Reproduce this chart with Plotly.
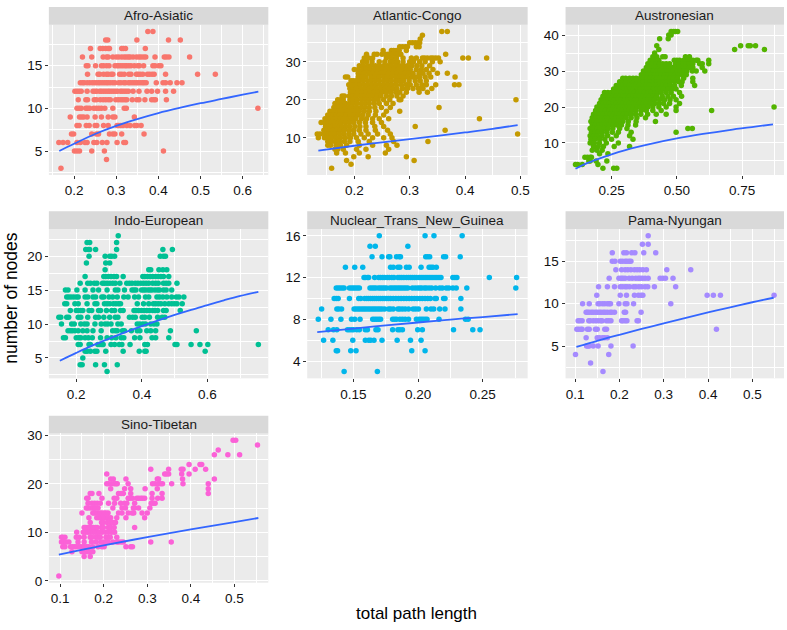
import plotly.graph_objects as go

# ---------------- data (y = number of nodes : list of total path lengths) -------------
afro_rows = {
    19: [0.375, 0.387],
    18: [0.275, 0.280, 0.349, 0.424, 0.452],
    17: [0.239, 0.262, 0.268, 0.275, 0.281, 0.284, 0.313, 0.317, 0.322, 0.369],
    16: [0.220, 0.242, 0.269, 0.277, 0.281, 0.292, 0.300, 0.306, 0.313, 0.319, 0.324, 0.329, 0.333, 0.340,
         0.348, 0.354, 0.359, 0.365, 0.370, 0.392, 0.414, 0.419, 0.425, 0.474],
    15: [0.229, 0.233, 0.251, 0.265, 0.270, 0.277, 0.283, 0.297, 0.302, 0.306, 0.311, 0.316, 0.321, 0.325,
         0.330, 0.335, 0.343, 0.351, 0.355, 0.365, 0.387, 0.392, 0.401, 0.406],
    14: [0.232, 0.257, 0.261, 0.270, 0.277, 0.281, 0.288, 0.292, 0.308, 0.313, 0.319, 0.330, 0.335, 0.348,
         0.352, 0.357, 0.363, 0.374, 0.379, 0.385, 0.390, 0.417, 0.493, 0.535],
    13: [0.215, 0.220, 0.224, 0.231, 0.237, 0.243, 0.248, 0.253, 0.258, 0.262, 0.267, 0.272, 0.277, 0.281,
         0.286, 0.292, 0.297, 0.306, 0.311, 0.318, 0.322, 0.329, 0.333, 0.338, 0.343, 0.348, 0.352, 0.357,
         0.362, 0.366, 0.371, 0.395, 0.411, 0.417, 0.428, 0.444, 0.456],
    12: [0.202, 0.207, 0.212, 0.217, 0.231, 0.245, 0.250, 0.254, 0.261, 0.265, 0.270, 0.275, 0.280, 0.284,
         0.289, 0.294, 0.299, 0.303, 0.310, 0.314, 0.319, 0.324, 0.329, 0.340, 0.354, 0.373, 0.384, 0.398,
         0.417, 0.436],
    11: [0.210, 0.228, 0.232, 0.248, 0.253, 0.262, 0.269, 0.275, 0.281, 0.286, 0.299, 0.305, 0.311, 0.316,
         0.321, 0.325, 0.338, 0.349, 0.354, 0.368, 0.384, 0.389, 0.393, 0.419],
    10: [0.207, 0.212, 0.217, 0.228, 0.232, 0.237, 0.247, 0.253, 0.259, 0.265, 0.273, 0.292, 0.319, 0.324, 0.636],
    9: [0.191, 0.213, 0.218, 0.223, 0.231, 0.250, 0.265, 0.281, 0.292, 0.297, 0.343],
    8: [0.207, 0.212, 0.229, 0.236, 0.250, 0.254, 0.270, 0.281, 0.302, 0.306, 0.311, 0.316, 0.325, 0.333,
        0.344, 0.349, 0.359],
    7: [0.194, 0.199, 0.242, 0.253, 0.258, 0.284, 0.292, 0.297, 0.313, 0.366],
    6: [0.164, 0.174, 0.185, 0.207, 0.215, 0.226, 0.231, 0.247, 0.254, 0.267, 0.278, 0.302, 0.318, 0.322],
    5: [0.201, 0.207, 0.213, 0.242, 0.272, 0.412],
    4: [0.277],
    3: [0.169],
}
afro_fit_x = [0.165, 0.2, 0.25, 0.3, 0.35, 0.4, 0.45, 0.5, 0.55, 0.6, 0.637]
afro_fit_y = [5.0, 5.85, 7.0, 7.95, 8.75, 9.45, 10.05, 10.6, 11.1, 11.6, 11.95]

congo_rows = {
    38: [0.358, 0.368],
    37: [0.323],
    36: [0.319],
    35: [0.300, 0.305, 0.310, 0.315, 0.318],
    34: [0.282, 0.287, 0.292, 0.296, 0.312, 0.317],
    33: [0.252, 0.267, 0.271, 0.276, 0.281, 0.294],
    32: [0.222, 0.236, 0.241, 0.250, 0.256, 0.261, 0.265, 0.270, 0.275, 0.279, 0.284, 0.365],
    31: [0.218, 0.226, 0.233, 0.258, 0.267, 0.276, 0.288, 0.303, 0.312, 0.323, 0.327, 0.332, 0.338, 0.342,
         0.347, 0.352, 0.396, 0.406, 0.439],
    30: [0.215, 0.222, 0.232, 0.245, 0.255, 0.265, 0.271, 0.278, 0.288, 0.300, 0.307, 0.318, 0.328, 0.341, 0.355],
    29: [0.209, 0.216, 0.224, 0.230, 0.238, 0.245, 0.253, 0.260, 0.267, 0.275, 0.282, 0.289, 0.296, 0.304,
         0.313, 0.322, 0.336],
    28: [0.200, 0.207, 0.215, 0.221, 0.228, 0.236, 0.243, 0.250, 0.258, 0.265, 0.272, 0.279, 0.287, 0.294,
         0.301, 0.312, 0.321, 0.330, 0.342],
    27: [0.207, 0.212, 0.218, 0.226, 0.233, 0.241, 0.248, 0.255, 0.262, 0.270, 0.277, 0.284, 0.292, 0.299,
         0.306, 0.317, 0.324, 0.335, 0.350, 0.368],
    26: [0.184, 0.188, 0.207, 0.214, 0.221, 0.230, 0.237, 0.245, 0.253, 0.260, 0.267, 0.275, 0.282, 0.289,
         0.296, 0.304, 0.311, 0.318, 0.328, 0.338, 0.382],
    25: [0.194, 0.198, 0.203, 0.209, 0.216, 0.224, 0.231, 0.238, 0.245, 0.253, 0.260, 0.267, 0.275, 0.282,
         0.289, 0.299, 0.310, 0.319, 0.330],
    24: [0.190, 0.196, 0.203, 0.210, 0.218, 0.225, 0.232, 0.239, 0.247, 0.254, 0.261, 0.268, 0.276, 0.285,
         0.294, 0.301, 0.312, 0.322, 0.330, 0.347, 0.381, 0.389],
    23: [0.192, 0.198, 0.204, 0.212, 0.219, 0.226, 0.233, 0.241, 0.248, 0.255, 0.262, 0.270, 0.277, 0.287,
         0.296, 0.306, 0.316, 0.324, 0.340],
    22: [0.193, 0.199, 0.207, 0.214, 0.221, 0.228, 0.236, 0.243, 0.250, 0.258, 0.266, 0.275, 0.282, 0.294,
         0.317, 0.332],
    21: [0.178, 0.182, 0.191, 0.197, 0.204, 0.212, 0.219, 0.226, 0.233, 0.241, 0.248, 0.258, 0.267, 0.277, 0.288],
    20: [0.170, 0.175, 0.180, 0.192, 0.198, 0.205, 0.213, 0.220, 0.227, 0.235, 0.243, 0.253, 0.264, 0.281,
         0.284, 0.492],
    19: [0.165, 0.172, 0.178, 0.184, 0.191, 0.198, 0.205, 0.213, 0.220, 0.227, 0.236, 0.245, 0.258, 0.270],
    18: [0.163, 0.168, 0.173, 0.178, 0.184, 0.190, 0.197, 0.204, 0.212, 0.219, 0.227, 0.237, 0.249, 0.265, 0.353],
    17: [0.156, 0.161, 0.165, 0.170, 0.175, 0.181, 0.187, 0.195, 0.202, 0.209, 0.218, 0.227, 0.239, 0.258, 0.282],
    16: [0.152, 0.156, 0.161, 0.167, 0.173, 0.179, 0.185, 0.192, 0.199, 0.207, 0.215, 0.225, 0.238, 0.253],
    15: [0.147, 0.152, 0.157, 0.162, 0.168, 0.174, 0.180, 0.187, 0.195, 0.203, 0.213, 0.222, 0.233, 0.245,
         0.262, 0.426],
    14: [0.140, 0.146, 0.152, 0.158, 0.164, 0.170, 0.176, 0.184, 0.191, 0.199, 0.209, 0.220, 0.233, 0.249],
    13: [0.148, 0.153, 0.159, 0.165, 0.172, 0.178, 0.185, 0.192, 0.201, 0.210, 0.221, 0.237, 0.253, 0.310],
    12: [0.145, 0.150, 0.156, 0.162, 0.168, 0.175, 0.182, 0.191, 0.199, 0.209, 0.221, 0.238, 0.260, 0.364],
    11: [0.133, 0.138, 0.146, 0.152, 0.158, 0.165, 0.173, 0.181, 0.190, 0.199, 0.212, 0.225, 0.242, 0.265, 0.495],
    10: [0.135, 0.146, 0.152, 0.159, 0.167, 0.175, 0.184, 0.193, 0.204, 0.218, 0.233, 0.253, 0.268],
    9: [0.152, 0.158, 0.165, 0.173, 0.182, 0.192, 0.207, 0.227, 0.271, 0.333],
    8: [0.152, 0.157, 0.167, 0.175, 0.186, 0.209, 0.233, 0.258, 0.277],
    7: [0.165, 0.170, 0.180, 0.204, 0.221, 0.262],
    6: [0.168, 0.184, 0.209, 0.256],
    5: [0.199, 0.225, 0.294],
    4: [0.186, 0.308],
    3: [0.194],
    2: [0.159],
}
congo_fit_x = [0.135, 0.2, 0.25, 0.3, 0.35, 0.4, 0.45, 0.495]
congo_fit_y = [6.6, 7.9, 8.8, 9.65, 10.5, 11.4, 12.35, 13.35]

austro_rows = {
    41: [0.478, 0.487, 0.495, 0.503],
    40: [0.469, 0.478],
    39: [0.434, 0.467],
    37: [0.423, 0.744, 0.773, 0.781, 0.801],
    36: [0.431, 0.721, 0.835],
    35: [0.415],
    34: [0.408, 0.423, 0.446, 0.455, 0.533, 0.548],
    33: [0.398, 0.413, 0.431, 0.490, 0.500, 0.510, 0.526, 0.542, 0.551, 0.561, 0.574, 0.580, 0.622],
    32: [0.389, 0.406, 0.421, 0.434, 0.446, 0.459, 0.472, 0.495, 0.510, 0.523, 0.536, 0.548, 0.561, 0.587,
         0.597, 0.622],
    31: [0.383, 0.395, 0.408, 0.421, 0.434, 0.446, 0.459, 0.472, 0.485, 0.497, 0.510, 0.523, 0.536, 0.546,
         0.561, 0.597],
    30: [0.372, 0.385, 0.398, 0.411, 0.423, 0.436, 0.449, 0.462, 0.474, 0.487, 0.500, 0.513, 0.526, 0.538,
         0.559, 0.574, 0.607],
    29: [0.364, 0.376, 0.389, 0.402, 0.415, 0.427, 0.440, 0.453, 0.466, 0.478, 0.491, 0.504, 0.520, 0.536],
    28: [0.293, 0.304, 0.319, 0.332, 0.344, 0.360, 0.372, 0.385, 0.398, 0.411, 0.423, 0.436, 0.449, 0.462,
         0.474, 0.487, 0.503, 0.526, 0.561],
    27: [0.281, 0.293, 0.306, 0.321, 0.334, 0.347, 0.360, 0.372, 0.385, 0.398, 0.411, 0.423, 0.436, 0.449,
         0.462, 0.474, 0.491, 0.508, 0.520, 0.561],
    26: [0.268, 0.281, 0.293, 0.306, 0.319, 0.332, 0.344, 0.357, 0.370, 0.383, 0.395, 0.408, 0.421, 0.434,
         0.446, 0.459, 0.474, 0.491, 0.517, 0.568],
    25: [0.258, 0.270, 0.283, 0.296, 0.309, 0.321, 0.334, 0.347, 0.360, 0.372, 0.385, 0.398, 0.411, 0.423,
         0.436, 0.449, 0.466, 0.482, 0.497],
    24: [0.223, 0.236, 0.249, 0.261, 0.274, 0.287, 0.300, 0.313, 0.325, 0.338, 0.351, 0.364, 0.376, 0.389,
         0.402, 0.415, 0.427, 0.440, 0.459, 0.478, 0.510],
    23: [0.217, 0.230, 0.242, 0.255, 0.268, 0.281, 0.293, 0.306, 0.319, 0.332, 0.344, 0.357, 0.370, 0.383,
         0.395, 0.408, 0.423, 0.444, 0.466, 0.487, 0.518],
    22: [0.210, 0.223, 0.236, 0.249, 0.261, 0.274, 0.287, 0.300, 0.313, 0.325, 0.338, 0.351, 0.364, 0.376,
         0.389, 0.402, 0.415, 0.434, 0.453, 0.474, 0.497],
    21: [0.204, 0.217, 0.230, 0.242, 0.255, 0.268, 0.281, 0.293, 0.306, 0.319, 0.332, 0.344, 0.357, 0.370,
         0.383, 0.398, 0.415, 0.431, 0.449, 0.472, 0.510],
    20: [0.194, 0.207, 0.219, 0.232, 0.245, 0.258, 0.270, 0.283, 0.296, 0.309, 0.321, 0.334, 0.347, 0.360,
         0.372, 0.389, 0.408, 0.431, 0.459, 0.497, 0.872],
    19: [0.189, 0.202, 0.214, 0.227, 0.240, 0.253, 0.265, 0.278, 0.291, 0.304, 0.316, 0.329, 0.344, 0.364,
         0.383, 0.408, 0.440, 0.497, 0.633],
    18: [0.181, 0.194, 0.207, 0.219, 0.232, 0.245, 0.258, 0.270, 0.283, 0.296, 0.309, 0.324, 0.342, 0.362,
         0.388, 0.421, 0.459],
    17: [0.176, 0.189, 0.202, 0.214, 0.227, 0.240, 0.253, 0.265, 0.278, 0.291, 0.306, 0.325, 0.347, 0.380],
    16: [0.171, 0.184, 0.196, 0.209, 0.222, 0.235, 0.247, 0.260, 0.276, 0.293, 0.314, 0.344, 0.418],
    15: [0.176, 0.189, 0.202, 0.214, 0.227, 0.240, 0.255, 0.270, 0.288, 0.313, 0.342],
    14: [0.168, 0.181, 0.194, 0.207, 0.222, 0.237, 0.255, 0.281, 0.309, 0.542, 0.559],
    13: [0.173, 0.186, 0.199, 0.214, 0.232, 0.253, 0.276, 0.325, 0.497],
    12: [0.168, 0.181, 0.196, 0.214, 0.235, 0.268, 0.319],
    11: [0.171, 0.186, 0.204, 0.224, 0.250, 0.332],
    10: [0.168, 0.184, 0.204, 0.230, 0.276],
    9: [0.181, 0.199, 0.219, 0.260, 0.319],
    8: [0.176, 0.194, 0.214],
    7: [0.204, 0.236],
    6: [0.148, 0.158, 0.168, 0.173],
    5: [0.163, 0.168, 0.191, 0.232],
    4: [0.112, 0.121, 0.138, 0.198],
    3: [0.217, 0.258, 0.270],
}
austro_fit_x = [0.112, 0.15, 0.2, 0.25, 0.3, 0.35, 0.4, 0.5, 0.6, 0.7, 0.8, 0.868]
austro_fit_y = [2.85, 4.2, 5.6, 6.85, 7.95, 8.9, 9.75, 11.25, 12.5, 13.6, 14.55, 15.2]

indo_rows = {
    23: [0.328],
    22: [0.233, 0.241, 0.323],
    21: [0.229, 0.237, 0.241, 0.259, 0.323, 0.464, 0.493],
    20: [0.239, 0.288, 0.302, 0.308, 0.317, 0.456, 0.466, 0.472],
    19: [0.231, 0.290, 0.302],
    18: [0.288, 0.421, 0.427, 0.452, 0.464, 0.476],
    17: [0.227, 0.284, 0.290, 0.298, 0.306, 0.315, 0.323, 0.343, 0.403, 0.409, 0.417, 0.425, 0.433, 0.442,
         0.450, 0.458, 0.466, 0.482],
    16: [0.212, 0.235, 0.243, 0.255, 0.263, 0.280, 0.286, 0.294, 0.302, 0.311, 0.319, 0.333, 0.354, 0.362,
         0.370, 0.380, 0.388, 0.397, 0.405, 0.413, 0.421, 0.433, 0.442, 0.450, 0.466, 0.474, 0.482, 0.507],
    15: [0.167, 0.175, 0.202, 0.227, 0.251, 0.268, 0.294, 0.319, 0.327, 0.347, 0.370, 0.376, 0.382, 0.399,
         0.405, 0.411, 0.419, 0.425, 0.431, 0.440, 0.448, 0.454, 0.466, 0.474, 0.491],
    14: [0.171, 0.177, 0.184, 0.192, 0.200, 0.206, 0.227, 0.235, 0.251, 0.259, 0.278, 0.284, 0.300, 0.311,
         0.325, 0.345, 0.358, 0.378, 0.390, 0.411, 0.421, 0.446, 0.454, 0.464, 0.476, 0.491, 0.505, 0.513, 0.528],
    13: [0.165, 0.171, 0.196, 0.206, 0.233, 0.257, 0.263, 0.286, 0.294, 0.302, 0.313, 0.321, 0.329, 0.335,
         0.386, 0.405, 0.421, 0.435, 0.442, 0.450, 0.458, 0.470, 0.482, 0.491, 0.499, 0.507, 0.523],
    12: [0.182, 0.200, 0.206, 0.214, 0.220, 0.239, 0.247, 0.268, 0.274, 0.292, 0.308, 0.317, 0.335, 0.343,
         0.376, 0.382, 0.390, 0.399, 0.407, 0.415, 0.423, 0.433, 0.440, 0.448, 0.466, 0.474, 0.517],
    11: [0.147, 0.153, 0.171, 0.177, 0.206, 0.214, 0.235, 0.259, 0.268, 0.284, 0.302, 0.319, 0.327, 0.362,
         0.372, 0.380, 0.401, 0.409, 0.423, 0.448, 0.462, 0.470],
    10: [0.155, 0.186, 0.194, 0.214, 0.225, 0.233, 0.257, 0.276, 0.288, 0.296, 0.306, 0.327, 0.337, 0.386,
         0.394, 0.403, 0.411, 0.427, 0.437, 0.446],
    9: [0.175, 0.182, 0.188, 0.196, 0.206, 0.220, 0.233, 0.251, 0.276, 0.311, 0.319, 0.325, 0.341, 0.347,
        0.368, 0.386, 0.394, 0.415, 0.427, 0.442, 0.487, 0.566],
    8: [0.161, 0.167, 0.200, 0.208, 0.214, 0.227, 0.237, 0.249, 0.274, 0.294, 0.308, 0.321, 0.337, 0.345,
        0.378, 0.394, 0.431, 0.442, 0.482],
    7: [0.206, 0.212, 0.239, 0.243, 0.266, 0.272, 0.278, 0.282, 0.306, 0.317, 0.331, 0.339, 0.364, 0.409,
        0.417, 0.501, 0.507, 0.550, 0.577, 0.601, 0.755],
    6: [0.227, 0.233, 0.243, 0.257, 0.263, 0.290, 0.343, 0.392, 0.409, 0.413, 0.593],
    5: [0.220],
    4: [0.212, 0.218, 0.259, 0.286, 0.325],
    3: [0.294],
}
indo_fit_x = [0.15, 0.2, 0.25, 0.3, 0.35, 0.4, 0.45, 0.5, 0.55, 0.6, 0.65, 0.7, 0.755]
indo_fit_y = [4.6, 5.75, 6.85, 7.85, 8.8, 9.7, 10.55, 11.35, 12.1, 12.8, 13.5, 14.15, 14.75]

ntng_rows = {
    16: [0.1700, 0.2054, 0.2123, 0.2341],
    15: [0.1628, 0.1669, 0.1921],
    14: [0.1644, 0.1721, 0.1772, 0.1782, 0.1833, 0.1854, 0.1864, 0.2059, 0.2074, 0.2090, 0.2197, 0.2213, 0.2326],
    13: [0.1438, 0.1510, 0.1572, 0.1787, 0.1808, 0.1844, 0.1859, 0.1910, 0.1931, 0.2023, 0.2085, 0.2100,
         0.2115, 0.2141],
    12: [0.1582, 0.1592, 0.1608, 0.1618, 0.1664, 0.1695, 0.1710, 0.1726, 0.1741, 0.1762, 0.1777, 0.1797,
         0.1813, 0.1844, 0.1859, 0.1874, 0.1890, 0.1910, 0.1926, 0.1941, 0.1956, 0.1972, 0.1987, 0.2008,
         0.2023, 0.2038, 0.2054, 0.2069, 0.2085, 0.2100, 0.2115, 0.2131, 0.2146, 0.2162, 0.2177, 0.2269,
         0.2285, 0.2300, 0.2551, 0.2762],
    11: [0.1367, 0.1382, 0.1397, 0.1413, 0.1428, 0.1469, 0.1485, 0.1500, 0.1515, 0.1531, 0.1546, 0.1628,
         0.1644, 0.1659, 0.1674, 0.1695, 0.1710, 0.1726, 0.1741, 0.1756, 0.1782, 0.1797, 0.1813, 0.1828,
         0.1844, 0.1859, 0.1874, 0.1890, 0.1905, 0.1921, 0.1956, 0.1977, 0.1997, 0.2013, 0.2028, 0.2049,
         0.2064, 0.2085, 0.2105, 0.2136, 0.2167, 0.2187, 0.2218, 0.2238, 0.2269, 0.2295, 0.2377, 0.2756],
    10: [0.1351, 0.1367, 0.1382, 0.1469, 0.1541, 0.1556, 0.1587, 0.1603, 0.1618, 0.1633, 0.1649, 0.1664,
         0.1679, 0.1695, 0.1710, 0.1726, 0.1741, 0.1756, 0.1772, 0.1787, 0.1808, 0.1828, 0.1849, 0.1869,
         0.1890, 0.1910, 0.1931, 0.1951, 0.1972, 0.1992, 0.2013, 0.2033, 0.2054, 0.2074, 0.2095, 0.2131,
         0.2141, 0.2197, 0.2208, 0.2331],
    9: [0.1254, 0.1372, 0.1387, 0.1408, 0.1505, 0.1520, 0.1536, 0.1551, 0.1567, 0.1582, 0.1597, 0.1613,
        0.1628, 0.1644, 0.1659, 0.1674, 0.1690, 0.1705, 0.1721, 0.1741, 0.1772, 0.1787, 0.1808, 0.1844,
        0.1859, 0.1879, 0.1900, 0.1926, 0.1962, 0.1982, 0.2003, 0.2064, 0.2100, 0.2121, 0.2167, 0.2208, 0.2331],
    8: [0.1228, 0.1326, 0.1403, 0.1485, 0.1510, 0.1551, 0.1649, 0.1664, 0.1679, 0.1695, 0.1710, 0.1803,
        0.1818, 0.1833, 0.1859, 0.1879, 0.1900, 0.1926, 0.1987, 0.2008, 0.2023, 0.2038, 0.2054, 0.2069,
        0.2162, 0.2367, 0.2387],
    7: [0.1305, 0.1346, 0.1372, 0.1454, 0.1469, 0.1485, 0.1500, 0.1526, 0.1546, 0.1592, 0.1608, 0.1674,
        0.1690, 0.1803, 0.1844, 0.1859, 0.1879, 0.1997, 0.2033, 0.2274, 0.2423, 0.2479],
    6: [0.1269, 0.1341, 0.1495, 0.1592, 0.1618, 0.1633, 0.1659, 0.1721, 0.1838, 0.1941, 0.2023],
    5: [0.1367, 0.1377, 0.1479, 0.1520, 0.1951, 0.2054],
    3: [0.1428, 0.1685],
}
ntng_fit_x = [0.122, 0.15, 0.175, 0.2, 0.225, 0.25, 0.277]
ntng_fit_y = [6.78, 7.12, 7.42, 7.7, 7.98, 8.22, 8.5]

pama_rows = {
    18: [0.265],
    17: [0.252, 0.265],
    16: [0.184, 0.210, 0.216, 0.228, 0.235, 0.255, 0.282],
    15: [0.184, 0.190, 0.202, 0.207, 0.213, 0.217, 0.222, 0.226],
    14: [0.192, 0.205, 0.213, 0.219, 0.226, 0.234, 0.240, 0.246, 0.253, 0.261, 0.307, 0.361],
    13: [0.177, 0.199, 0.204, 0.208, 0.213, 0.222, 0.229, 0.237, 0.243, 0.247, 0.252, 0.258, 0.265, 0.292,
         0.298, 0.304, 0.321],
    12: [0.153, 0.173, 0.189, 0.202, 0.207, 0.213, 0.217, 0.223, 0.232, 0.237, 0.244, 0.250, 0.258, 0.264,
         0.279, 0.327],
    11: [0.149, 0.202, 0.216, 0.234, 0.243, 0.249, 0.253, 0.398, 0.412, 0.428, 0.549],
    10: [0.117, 0.132, 0.152, 0.156, 0.162, 0.167, 0.173, 0.177, 0.180, 0.199, 0.213, 0.217, 0.232, 0.316],
    9: [0.125, 0.128, 0.132, 0.137, 0.141, 0.146, 0.150, 0.155, 0.159, 0.164, 0.168, 0.173, 0.179, 0.183,
        0.189, 0.211, 0.214, 0.249],
    8: [0.107, 0.111, 0.116, 0.131, 0.134, 0.141, 0.147, 0.152, 0.158, 0.161, 0.171, 0.176, 0.181, 0.205,
        0.208, 0.213, 0.217, 0.240, 0.243],
    7: [0.104, 0.108, 0.113, 0.116, 0.128, 0.132, 0.146, 0.150, 0.167, 0.171, 0.419],
    6: [0.125, 0.150, 0.155, 0.162, 0.167, 0.173],
    5: [0.126, 0.129, 0.132, 0.141, 0.152, 0.181, 0.231],
    4: [0.101, 0.176],
    3: [0.135],
    2: [0.163],
}
pama_fit_x = [0.103, 0.15, 0.2, 0.25, 0.3, 0.35, 0.4, 0.45, 0.5, 0.548]
pama_fit_y = [4.9, 5.62, 6.33, 7.02, 7.69, 8.34, 8.97, 9.58, 10.17, 10.7]

sino_rows = {
    29: [0.497, 0.503],
    28: [0.553],
    27: [0.463],
    26: [0.454, 0.485, 0.512],
    24: [0.396, 0.421, 0.425],
    23: [0.308, 0.349, 0.378, 0.382, 0.410, 0.434],
    22: [0.207, 0.340, 0.344, 0.349, 0.379, 0.396],
    21: [0.216, 0.222, 0.251, 0.323, 0.326, 0.381, 0.454],
    20: [0.207, 0.211, 0.218, 0.224, 0.228, 0.231, 0.256, 0.312, 0.318, 0.326, 0.331, 0.335, 0.356, 0.382, 0.440],
    19: [0.216, 0.248, 0.262, 0.295, 0.323, 0.440],
    18: [0.169, 0.173, 0.189, 0.234, 0.240, 0.245, 0.262, 0.311, 0.334, 0.440],
    17: [0.161, 0.164, 0.196, 0.224, 0.230, 0.256, 0.260, 0.266, 0.276, 0.280, 0.285, 0.289, 0.294, 0.311,
         0.324, 0.334],
    16: [0.164, 0.173, 0.179, 0.185, 0.192, 0.211, 0.225, 0.239, 0.248, 0.253, 0.271, 0.309, 0.314, 0.318],
    15: [0.160, 0.164, 0.170, 0.176, 0.181, 0.187, 0.221, 0.242, 0.250, 0.268, 0.271, 0.280, 0.306],
    14: [0.150, 0.175, 0.178, 0.182, 0.187, 0.192, 0.196, 0.201, 0.205, 0.210, 0.234, 0.242, 0.256, 0.265,
         0.269, 0.288, 0.300],
    13: [0.166, 0.184, 0.189, 0.193, 0.198, 0.202, 0.207, 0.211, 0.216, 0.230, 0.251, 0.294],
    12: [0.169, 0.195, 0.199, 0.208, 0.215, 0.221, 0.227],
    11: [0.155, 0.158, 0.163, 0.167, 0.172, 0.176, 0.181, 0.185, 0.195, 0.199, 0.210, 0.216, 0.224, 0.271],
    10: [0.138, 0.153, 0.158, 0.164, 0.170, 0.176, 0.181, 0.185, 0.190, 0.196, 0.204, 0.211, 0.218, 0.225],
    9: [0.103, 0.106, 0.111, 0.137, 0.144, 0.155, 0.169, 0.173, 0.182, 0.187, 0.192, 0.205, 0.210, 0.215, 0.230],
    8: [0.103, 0.108, 0.114, 0.120, 0.141, 0.155, 0.172, 0.182, 0.193, 0.199, 0.205, 0.210, 0.221, 0.230,
        0.234, 0.240, 0.245, 0.308, 0.355],
    7: [0.106, 0.111, 0.124, 0.129, 0.134, 0.138, 0.143, 0.147, 0.152, 0.156, 0.161, 0.166, 0.175, 0.187,
        0.196, 0.201, 0.251, 0.262, 0.266],
    6: [0.127, 0.150, 0.156, 0.161, 0.166, 0.170, 0.175],
    5: [0.155, 0.169],
    1: [0.097],
}
sino_fit_x = [0.097, 0.2, 0.3, 0.4, 0.5, 0.555]
sino_fit_y = [5.4, 7.3, 9.0, 10.6, 12.1, 12.95]

families = ["Afro-Asiatic", "Atlantic-Congo", "Austronesian", "Indo-European",
            "Nuclear_Trans_New_Guinea", "Pama-Nyungan", "Sino-Tibetan"]
family_rows = [afro_rows, congo_rows, austro_rows, indo_rows, ntng_rows, pama_rows, sino_rows]
fit_x = [afro_fit_x, congo_fit_x, austro_fit_x, indo_fit_x, ntng_fit_x, pama_fit_x, sino_fit_x]
fit_y = [afro_fit_y, congo_fit_y, austro_fit_y, indo_fit_y, ntng_fit_y, pama_fit_y, sino_fit_y]
colors = ["#F8766D", "#C49A00", "#53B400", "#00C094", "#00B6EB", "#A58AFF", "#FB61D7"]
x_dticks = [0.1, 0.1, 0.25, 0.2, 0.05, 0.1, 0.1]
y_dticks = [5, 10, 10, 5, 4, 5, 10]
x_formats = ["", "", ".2f", "", ".2f", "", ""]

# ---------------- layout geometry (pixels of a 787x630 canvas) ----------------
W, H = 787, 630
col_px = [(49, 269), (308, 529), (567, 786)]
row_px = [(20, 173), (228, 380), (436, 588)]
STRIP = 18
FONT = "Liberation Sans, Arial, Helvetica, sans-serif"

fig = go.Figure()
layout = dict(
    width=W, height=H, autosize=False,
    margin=dict(l=0, r=0, t=0, b=0),
    paper_bgcolor="white", plot_bgcolor="#EBEBEB",
    showlegend=False,
    font=dict(family=FONT, color="#1A1A1A"),
)
shapes, annotations = [], []

for i, fam in enumerate(families):
    r, c = divmod(i, 3)
    xd = [col_px[c][0] / W, col_px[c][1] / W]
    yd = [1 - row_px[r][1] / H, 1 - row_px[r][0] / H]
    sfx = "" if i == 0 else str(i + 1)

    xs, ys = [], []
    for yv, xl in family_rows[i].items():
        for xv in xl:
            xs.append(xv)
            ys.append(yv)

    fig.add_trace(go.Scatter(x=xs, y=ys, mode="markers", xaxis="x" + sfx, yaxis="y" + sfx,
                             marker=dict(color=colors[i], size=5.5, line=dict(width=0)),
                             hoverinfo="skip"))
    fig.add_trace(go.Scatter(x=fit_x[i], y=fit_y[i], mode="lines", xaxis="x" + sfx, yaxis="y" + sfx,
                             line=dict(color="#3366FF", width=1.8, shape="spline"), hoverinfo="skip"))

    xmin, xmax = min(xs + fit_x[i]), max(xs + fit_x[i])
    ymin, ymax = min(ys), max(ys)
    xr = [xmin - 0.05 * (xmax - xmin), xmax + 0.05 * (xmax - xmin)]
    yr = [ymin - 0.05 * (ymax - ymin), ymax + 0.05 * (ymax - ymin)]

    common = dict(showline=False, zeroline=False, showgrid=True, gridcolor="white", gridwidth=1.2,
                  ticks="outside", ticklen=3, tickwidth=1, tickcolor="#333333",
                  tickfont=dict(family=FONT, size=13.5, color="#111111"), tick0=0)
    layout["xaxis" + sfx] = dict(common, domain=xd, range=xr, anchor="y" + sfx,
                                 dtick=x_dticks[i], tickformat=x_formats[i],
                                 minor=dict(dtick=x_dticks[i] / 2, tick0=0, showgrid=True,
                                            gridcolor="white", gridwidth=0.6, ticks=""))
    layout["yaxis" + sfx] = dict(common, domain=yd, range=yr, anchor="x" + sfx,
                                 dtick=y_dticks[i],
                                 minor=dict(dtick=y_dticks[i] / 2, tick0=0, showgrid=True,
                                            gridcolor="white", gridwidth=0.6, ticks=""))

    # facet strip
    shapes.append(dict(type="rect", xref="paper", yref="paper", layer="below",
                       x0=xd[0], x1=xd[1], y0=yd[1], y1=yd[1] + STRIP / H,
                       fillcolor="#D9D9D9", line=dict(width=0)))
    annotations.append(dict(text=fam, xref="paper", yref="paper", showarrow=False,
                            x=(xd[0] + xd[1]) / 2, y=yd[1] + STRIP / 2 / H,
                            xanchor="center", yanchor="middle",
                            font=dict(family=FONT, size=13.5, color="#1A1A1A")))

annotations.append(dict(text="total path length", xref="paper", yref="paper", showarrow=False,
                        x=418 / W, y=1 - 619 / H, xanchor="center", yanchor="middle",
                        font=dict(family=FONT, size=17, color="#000000")))
annotations.append(dict(text="number of nodes", xref="paper", yref="paper", showarrow=False,
                        x=11 / W, y=1 - 298 / H, xanchor="center", yanchor="middle", textangle=-90,
                        font=dict(family=FONT, size=17.5, color="#000000")))

layout["shapes"] = shapes
layout["annotations"] = annotations
fig.update_layout(**layout)
fig.write_html("out.html", config={"displayModeBar": False},
               post_script="document.body.style.margin='0px';document.body.style.overflow='hidden';")
